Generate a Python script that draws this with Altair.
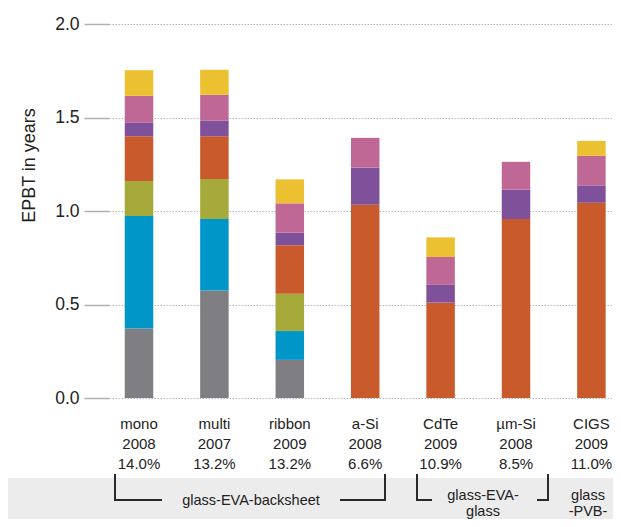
import altair as alt
import pandas as pd

# ---- data ----
categories = ["mono", "multi", "ribbon", "a-Si", "CdTe", "µm-Si", "CIGS"]
years = ["2008", "2007", "2009", "2008", "2009", "2008", "2009"]
efficiencies = ["14.0%", "13.2%", "13.2%", "6.6%", "10.9%", "8.5%", "11.0%"]

components = ["silicon feedstock", "ingot + wafer", "cell", "laminate",
              "frame", "mounting + cabling", "inverter"]
colors = ["#7f7e83", "#0096c8", "#a6aa3a", "#c95a2c", "#7f519a", "#c06895", "#ebc031"]

feedstock = [0.372, 0.575, 0.204, 0.0, 0.0, 0.0, 0.0]
wafer = [0.601, 0.382, 0.154, 0.0, 0.0, 0.0, 0.0]
cell = [0.187, 0.214, 0.199, 0.0, 0.0, 0.0, 0.0]
laminate = [0.240, 0.229, 0.260, 1.034, 0.510, 0.957, 1.044]
frame = [0.074, 0.082, 0.067, 0.199, 0.095, 0.157, 0.093]
mounting = [0.142, 0.139, 0.157, 0.158, 0.149, 0.149, 0.158]
inverter = [0.137, 0.135, 0.128, 0.0, 0.105, 0.0, 0.080]

group_texts = ["glass-EVA-backsheet", "glass-EVA-\nglass", "glass\n-PVB-"]
group_first = ["mono", "CdTe", "CIGS"]
group_last = ["a-Si", "µm-Si", "CIGS"]

# ---- tables ----
labels = [f"{c}\n{y}\n{e}" for c, y, e in zip(categories, years, efficiencies)]
lab = dict(zip(categories, labels))
series = [feedstock, wafer, cell, laminate, frame, mounting, inverter]
rows = []
for k, (comp, vals) in enumerate(zip(components, series)):
    for lbl, v in zip(labels, vals):
        if v > 0:
            rows.append({"label": lbl, "component": comp, "order": k, "value": v})
bars_df = pd.DataFrame(rows)
cats_df = pd.DataFrame({"label": labels})
groups_df = pd.DataFrame({
    "text": group_texts,
    "first": [lab[c] for c in group_first],
    "last": [lab[c] for c in group_last],
})

FONT = "Liberation Sans"
INK = "#222222"
xscale = alt.Scale(domain=labels, paddingInner=0.622, paddingOuter=0.1532, align=0.682)

band = alt.Chart(pd.DataFrame({"a": [0]})).mark_rect(color="#ececec").encode(
    x=alt.value(-101), x2=alt.value(504), y=alt.value(454), y2=alt.value(500)
)

bars = alt.Chart(bars_df).mark_bar().encode(
    x=alt.X("label:N", scale=xscale, sort=labels, axis=None),
    y=alt.Y("value:Q", stack="zero", scale=alt.Scale(domain=[0, 2], nice=False),
            axis=alt.Axis(values=[0, 0.5, 1, 1.5, 2], format=".1f",
                          title="EPBT in years", titleFont=FONT, titleFontSize=18,
                          titleFontWeight="normal", titleColor=INK,
                          titleX=-80, titleY=141, titleAlign="center",
                          titleBaseline="middle", titleAngle=-90,
                          labelFont=FONT, labelFontSize=17.5, labelColor=INK,
                          labelPadding=5, tickSize=25, tickColor="#b0b0b0",
                          tickWidth=1.5, domain=False, grid=True,
                          gridColor="#b8b8b8", gridDash=[1.5, 1.5], gridWidth=1)),
    color=alt.Color("component:N", scale=alt.Scale(domain=components, range=colors),
                    legend=None),
    order=alt.Order("order:Q"),
)

def xf(field):
    return alt.X(f"{field}:N", scale=xscale, axis=None)

cat_labels = alt.Chart(cats_df).mark_text(
    font=FONT, fontSize=15, color=INK, lineBreak="\n", lineHeight=20,
    baseline="alphabetic", align="center"
).encode(x=xf("label"), y=alt.value(405), text="label:N")

Y1, Y2 = 450, 476
bw = 2
bcol = "#2a2a2a"
def esc(s):
    return s.replace("\n", "\\n")
g0 = alt.Chart(groups_df).transform_filter("datum.first == '%s'" % esc(lab["mono"]))
g1 = alt.Chart(groups_df).transform_filter("datum.first == '%s'" % esc(lab["CdTe"]))
g2 = alt.Chart(groups_df).transform_filter("datum.first == '%s'" % esc(lab["CIGS"]))

def rule(g, **kw):
    return g.mark_rule(strokeWidth=bw, color=bcol, **kw)

brackets = [
    rule(g0, xOffset=-24).encode(x=xf("first"), y=alt.value(Y1), y2=alt.value(Y2)),
    rule(g0, xOffset=-25, x2Offset=23).encode(x=xf("first"), x2="first:N", y=alt.value(Y2)),
    rule(g0, xOffset=-25.2, x2Offset=20.8).encode(x=xf("last"), x2="last:N", y=alt.value(Y2)),
    rule(g0, xOffset=19.8).encode(x=xf("last"), y=alt.value(Y1), y2=alt.value(Y2)),
    rule(g1, xOffset=-23.6).encode(x=xf("first"), y=alt.value(Y1), y2=alt.value(Y2)),
    rule(g1, xOffset=-24.6, x2Offset=-8.6).encode(x=xf("first"), x2="first:N", y=alt.value(Y2)),
    rule(g1, xOffset=21, x2Offset=33).encode(x=xf("last"), x2="last:N", y=alt.value(Y2)),
    rule(g1, xOffset=32).encode(x=xf("last"), y=alt.value(Y1), y2=alt.value(Y2)),
]

text_kw = dict(font=FONT, fontSize=14.5, color=INK, lineBreak="\n", lineHeight=15.5,
               baseline="alphabetic", align="center")
texts = [
    g0.mark_text(dx=112, **text_kw).encode(x=xf("first"), y=alt.value(481), text="text:N"),
    g1.mark_text(dx=42.4, **text_kw).encode(x=xf("first"), y=alt.value(476), text="text:N"),
    g2.mark_text(dx=-3.4, **text_kw).encode(x=xf("first"), y=alt.value(476), text="text:N"),
]

chart = alt.layer(band, bars, cat_labels, *brackets, *texts).properties(
    width=504, height=374,
    autosize=alt.AutoSizeParams(type="none"),
    padding={"left": 101, "top": 16, "right": 0, "bottom": 121},
    background="white",
).configure_view(stroke=None)

chart.save("out.html", embed_options={"renderer": "svg", "actions": False})
